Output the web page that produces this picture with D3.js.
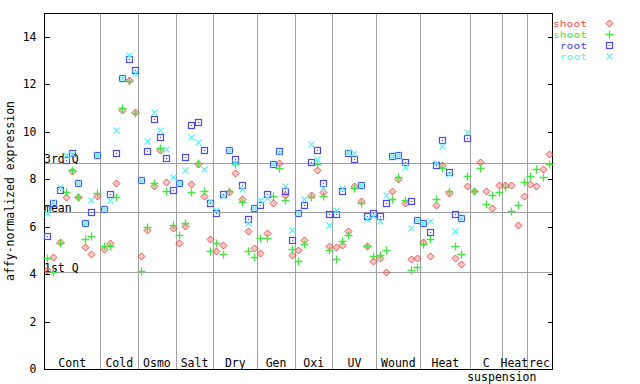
<!DOCTYPE html>
<html><head><meta charset="utf-8">
<script src="https://cdn.jsdelivr.net/npm/d3@7"></script>
<style>
html,body{margin:0;padding:0;background:#fff;}
svg{display:block;}
text{font-family:"DejaVu Sans Mono",monospace;font-size:11.5px;fill:#000;}
</style></head><body>
<svg id="chart" width="640" height="384"></svg>
<script>
// ---- data ----
const groupLabels = ["Cont","Cold","Osmo","Salt","Dry","Gen","Oxi","UV","Wound","Heat","C","Heat","rec"];
const groupSubLabels = ["","","","","","","","","","","suspension","",""];
const groupSizes = [9,6,6,6,7,6,6,7,7,8,5,4,4];
const yTicks = [0,2,4,6,8,10,12,14];
const refLines = [{label:"3rd Q", value:8.68},{label:"mean", value:6.61},{label:"1st Q", value:4.08}];
const seriesNames = ["shoot","shoot","root","root"];

const shootRep1 = [4.18,4.71,5.37,7.24,8.36,7.24,5.13,4.85,7.30,
  5.05,5.30,7.83,10.92,12.19,10.84,
  4.77,5.86,7.72,9.24,7.87,5.93,
  5.33,6.03,7.79,8.64,7.30,5.47,
  4.98,5.23,7.44,8.25,7.16,5.82,5.09,
  4.88,5.72,6.99,8.68,7.34,4.80,
  5.02,5.44,7.34,8.38,7.44,5.19,
  5.13,5.21,5.83,7.70,7.06,5.19,4.57,
  4.67,4.08,7.48,8.00,6.99,4.64,4.67,
  5.37,4.77,6.90,8.58,7.41,4.67,4.42,7.69,
  7.52,8.72,7.52,6.78,7.76,
  7.76,7.76,6.07,7.30,
  7.80,7.72,8.42,9.06];
const shootRep2 = [4.69,4.10,5.33,7.45,8.40,7.24,5.47,5.61,7.41,
  5.19,5.19,7.24,11.00,12.12,10.77,
  4.13,5.98,7.83,9.31,7.48,6.07,
  5.65,6.14,7.45,8.66,7.48,4.98,
  5.30,4.84,7.51,8.65,7.03,4.98,4.71,
  5.51,5.54,7.27,8.46,7.10,5.05,
  4.55,5.26,7.24,8.63,7.29,5.00,
  4.64,5.40,5.64,7.62,6.99,5.19,4.77,
  4.81,5.02,7.16,8.11,7.13,4.18,4.29,
  5.27,5.48,7.16,8.49,7.48,5.19,4.84,8.14,
  7.48,8.46,6.95,7.32,7.45,
  7.66,6.66,6.92,7.87,
  8.14,8.42,8.09,8.63];
const rootRep1 = [5.60,6.99,7.55,8.82,9.09,7.83,6.14,6.60,9.03,
  6.73,7.38,9.10,12.26,13.06,12.58,
  7.97,9.19,10.53,9.77,8.89,7.55,
  7.83,8.93,10.28,10.40,9.22,6.99,
  6.57,7.37,9.24,8.84,7.76,6.33,6.80,
  6.92,7.38,8.65,9.17,7.52,5.44,
  6.57,6.92,8.72,9.22,7.83,6.52,
  6.52,7.50,9.12,8.84,7.76,6.43,6.57,
  6.43,6.99,8.96,9.00,8.72,7.07,6.28,
  6.14,5.77,8.60,9.66,8.30,6.54,6.36,9.73,
  null,null,null,null,null,null,null,null,null,null,null,null,null];
const rootRep2 = [6.59,7.05,7.67,9.03,9.07,7.85,6.16,7.11,9.03,
  6.75,7.11,10.08,12.26,13.24,12.47,
  7.97,9.59,10.83,10.08,9.28,8.08,
  7.83,8.39,9.77,9.56,8.42,7.09,
  6.71,7.27,9.24,8.67,7.58,6.17,6.80,
  7.11,7.20,8.65,9.15,7.72,5.86,
  6.57,7.16,9.48,8.85,7.62,6.07,
  6.72,7.62,9.14,9.10,7.76,6.33,6.46,
  6.23,7.34,8.96,9.00,8.53,5.93,6.28,
  6.14,6.24,8.70,9.41,8.21,5.82,6.36,9.98,
  null,null,null,null,null,null,null,null,null,null,null,null,null];

// ---- layout / styles ----
const colors = ["#f24c4c","#44e444","#4a4af0","#5ef0f0"];
const shapes = ["diamond","plus","square","cross"];
const allSeries = [shootRep1, shootRep2, rootRep1, rootRep2];
const nSamples = groupSizes.reduce((a,b)=>a+b,0);
const L=44, R=552, T=13, B=369;

const svg = d3.select("#chart");
const x = d3.scaleLinear().domain([0,nSamples]).range([L,R]);
const y = d3.scaleLinear().domain([0,15]).range([B,T]);
const px = v => Math.round(v)+0.5;

// group boundaries
const bounds = [0];
groupSizes.forEach(s => bounds.push(bounds[bounds.length-1]+s));

const grid = svg.append("g").attr("stroke","#a0a0a0").attr("stroke-width",1).attr("shape-rendering","crispEdges");
bounds.slice(1,-1).forEach(b => {
  grid.append("line").attr("x1",px(x(b))).attr("x2",px(x(b))).attr("y1",T).attr("y2",B);
});
refLines.forEach(r => {
  grid.append("line").attr("x1",L).attr("x2",R).attr("y1",px(y(r.value))).attr("y2",px(y(r.value)));
});
refLines.forEach(r => {
  svg.append("text").attr("x",L).attr("y",y(r.value)).text(r.label);
});

// axes
const yAxisL = d3.axisLeft(y).tickValues(yTicks).tickSize(-5).tickPadding(8).tickFormat(d3.format("d"));
const gL = svg.append("g").attr("transform",`translate(${L+0.5},0)`).call(yAxisL);
gL.select(".domain").remove();
gL.selectAll("text").style("font-family","'DejaVu Sans Mono',monospace").style("font-size","11.5px");
gL.selectAll("line").attr("stroke","#000").attr("shape-rendering","crispEdges");
gL.selectAll(".tick").attr("transform", d => `translate(0,${px(y(d))})`);
const yAxisR = d3.axisRight(y).tickValues(yTicks).tickSize(-5).tickFormat("");
const gR = svg.append("g").attr("transform",`translate(${R+0.5},0)`).call(yAxisR);
gR.select(".domain").remove();
gR.selectAll("line").attr("stroke","#000").attr("shape-rendering","crispEdges");
gR.selectAll(".tick").attr("transform", d => `translate(0,${px(y(d))})`);

svg.append("rect").attr("x",L+0.5).attr("y",T+0.5).attr("width",R-L).attr("height",B-T)
  .attr("fill","none").attr("stroke","#000").attr("stroke-width",1).attr("shape-rendering","crispEdges");

// group labels
groupLabels.forEach((g,i) => {
  const mid = (bounds[i]+bounds[i+1])/2;
  svg.append("text").attr("x",x(mid)).attr("y",B-2).attr("text-anchor","middle").text(g);
  if (groupSubLabels[i]) {
    svg.append("text").attr("x",x(bounds[i+1])).attr("y",B+12).attr("text-anchor","middle").text(groupSubLabels[i]);
  }
});

// y title
svg.append("text").attr("transform","translate(14,191) rotate(-90)").attr("text-anchor","middle").text("affy-normalized expression");

// markers
function drawMarker(g, shape, color, cx, cy) {
  if (shape==="diamond") {
    g.append("path").attr("d",`M${cx},${cy-3.5}L${cx+3.5},${cy}L${cx},${cy+3.5}L${cx-3.5},${cy}Z`)
      .attr("fill",color).attr("fill-opacity",0.3).attr("stroke",color).attr("stroke-width",1);
  } else if (shape==="plus") {
    g.append("path").attr("d",`M${cx-4},${cy}H${cx+4}M${cx},${cy-4}V${cy+4}`)
      .attr("stroke",color).attr("stroke-width",1.3).attr("fill","none");
  } else if (shape==="square") {
    g.append("rect").attr("x",cx-3).attr("y",cy-3).attr("width",6).attr("height",6)
      .attr("fill","none").attr("stroke",color).attr("stroke-width",1.2);
    g.append("rect").attr("x",cx-0.6).attr("y",cy-0.6).attr("width",1.2).attr("height",1.2).attr("fill",color);
  } else {
    g.append("path").attr("d",`M${cx-3},${cy-3}L${cx+3},${cy+3}M${cx-3},${cy+3}L${cx+3},${cy-3}`)
      .attr("stroke",color).attr("stroke-width",1.1).attr("fill","none");
  }
}
const pts = svg.append("g");
allSeries.forEach((vals,s) => {
  vals.forEach((v,i) => {
    if (v===null) return;
    drawMarker(pts, shapes[s], colors[s], Math.round(x(i+0.5))+0.5, Math.round(y(v))+0.5);
  });
});

// legend
seriesNames.forEach((n,s) => {
  const cy = 23.5 + s*11;
  svg.append("text").attr("x",587).attr("y",cy+3.5).attr("text-anchor","end")
    .style("fill",colors[s]).style("font-size","9.4px")
    .attr("textLength", n.length*6.8).attr("lengthAdjust","spacingAndGlyphs").text(n);
  drawMarker(svg, shapes[s], colors[s], 609.5, cy);
});
</script>
</body></html>
